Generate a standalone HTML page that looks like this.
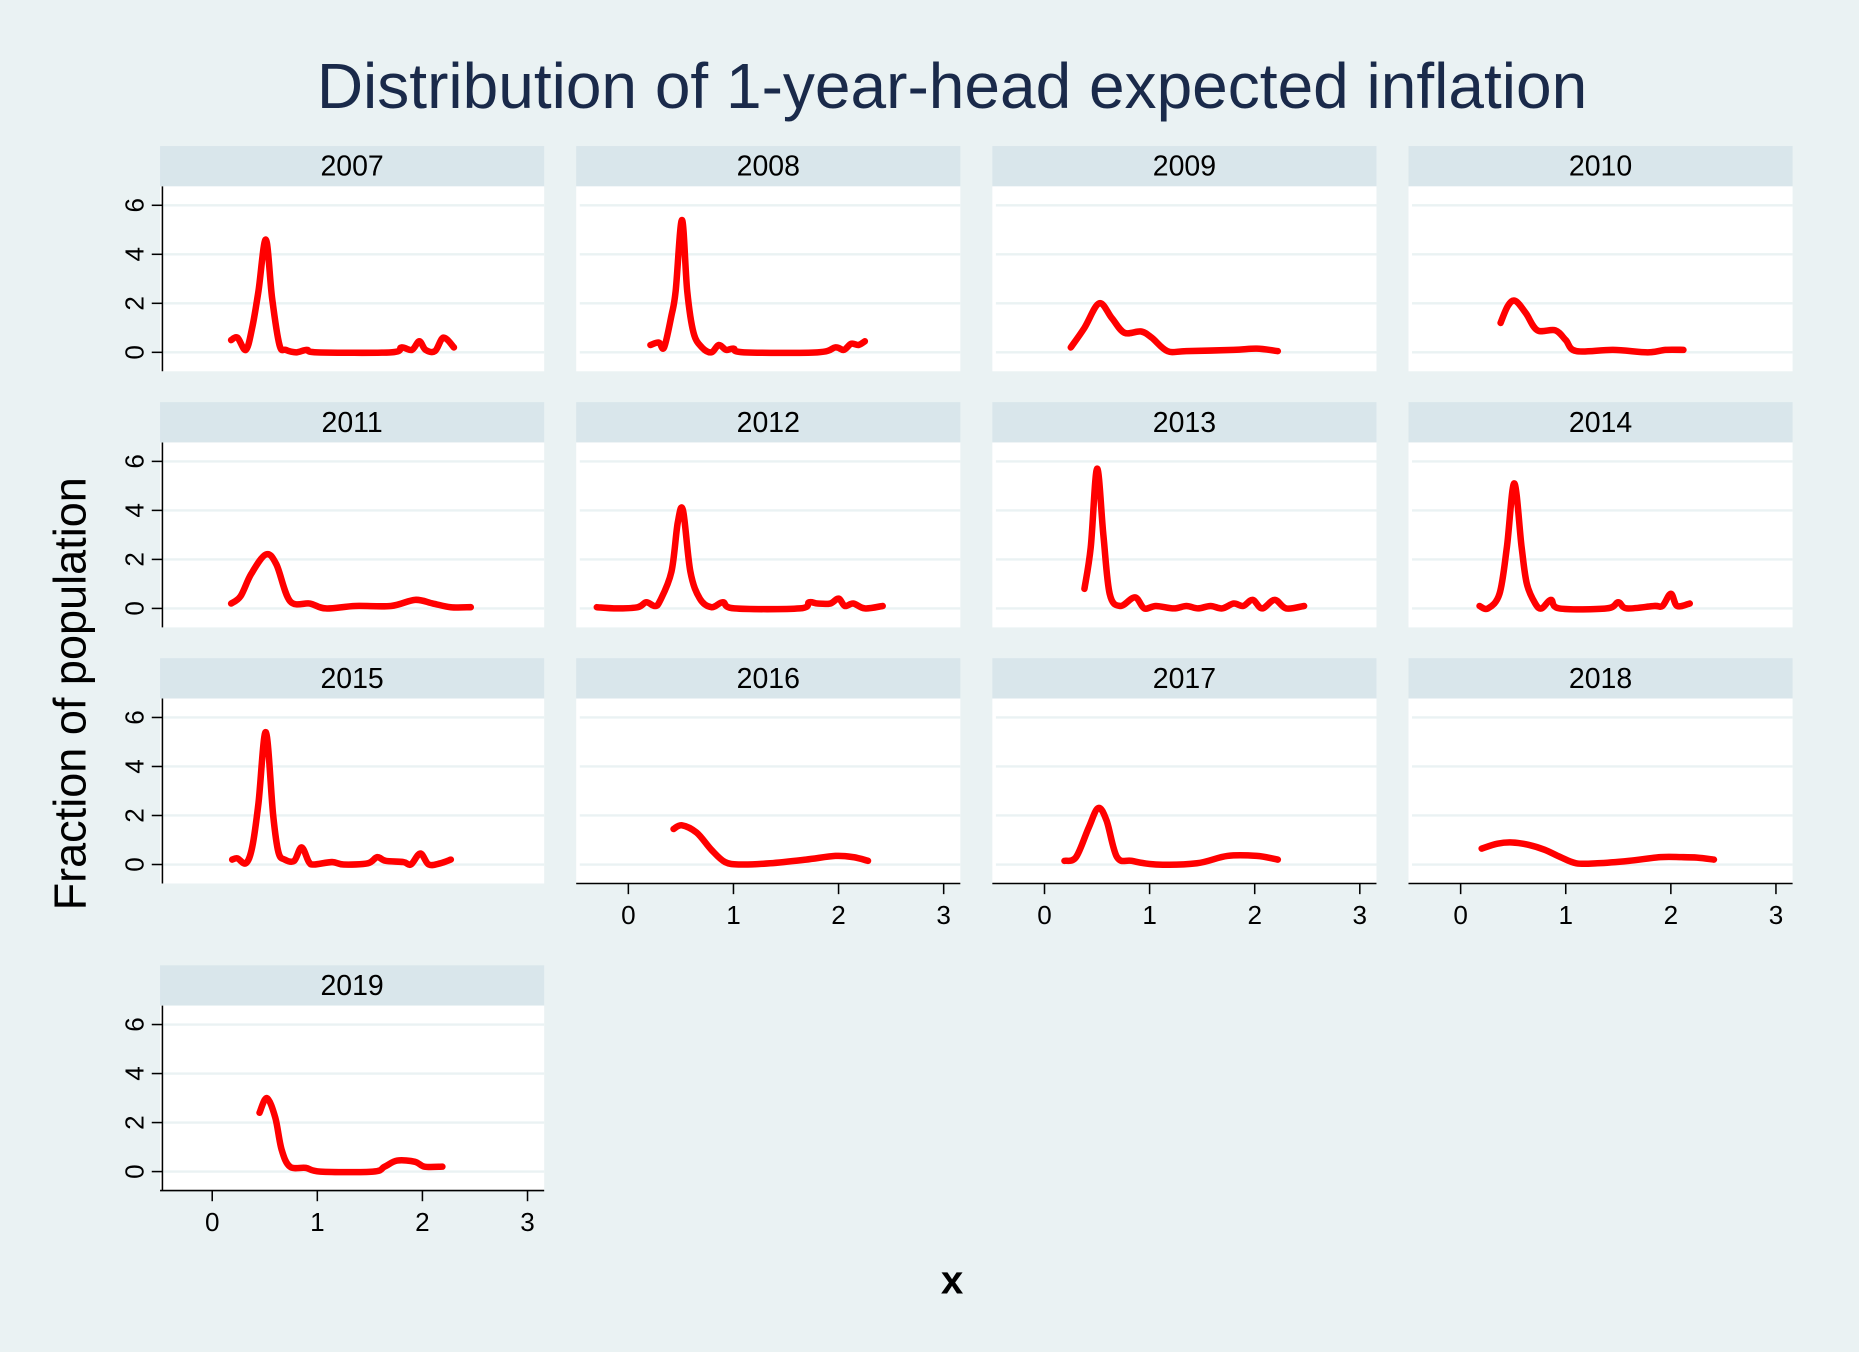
<!DOCTYPE html>
<html><head><meta charset="utf-8"><style>
html,body{margin:0;padding:0;background:#eaf2f3;}
svg{display:block;font-family:"Liberation Sans",sans-serif;}
</style></head><body>
<svg id="chart" width="1859" height="1352" viewBox="0 0 1568 1140" xmlns="http://www.w3.org/2000/svg">
<rect width="1568" height="1140" fill="#eaf2f3"/>
<text x="803" y="91" text-anchor="middle" font-size="54" fill="#1a2a4a">Distribution of 1-year-head expected inflation</text>
<text transform="translate(72,585) rotate(-90)" text-anchor="middle" font-size="38" fill="#000">Fraction of population</text>
<text x="803" y="1091" text-anchor="middle" font-size="34" font-weight="bold" fill="#000">x</text>
<g id="panels"></g>
</svg>
<script>
const years = ['2007','2008','2009','2010','2011','2012','2013','2014','2015','2016','2017','2018','2019'];
const yTicks = [0,2,4,6];
const xTicks = [0,1,2,3];
const x2007=[0.18,0.24,0.32,0.38,0.44,0.51,0.57,0.64,0.70,0.80,0.90,1.0,1.7,1.8,1.9,1.97,2.03,2.12,2.2,2.3];
const y2007=[0.5,0.6,0.1,1.0,2.5,4.6,2.2,0.3,0.1,0,0.1,0,0,0.2,0.1,0.45,0.1,0.05,0.6,0.2];
const x2008=[0.21,0.29,0.34,0.41,0.45,0.51,0.56,0.62,0.70,0.79,0.86,0.93,1.0,1.1,1.8,1.97,2.05,2.12,2.19,2.25];
const y2008=[0.3,0.4,0.2,1.5,2.5,5.4,2.5,0.8,0.2,0,0.3,0.1,0.15,0,0,0.2,0.1,0.35,0.3,0.45];
const x2009=[0.25,0.38,0.52,0.64,0.76,0.92,1.02,1.17,1.35,1.8,2.02,2.22];
const y2009=[0.2,1.0,2.0,1.4,0.8,0.85,0.6,0.05,0.05,0.1,0.15,0.05];
const x2010=[0.38,0.45,0.52,0.62,0.73,0.90,1.0,1.1,1.45,1.78,1.95,2.12];
const y2010=[1.2,1.9,2.1,1.6,0.9,0.9,0.5,0.05,0.1,0,0.1,0.1];
const x2011=[0.18,0.27,0.37,0.51,0.61,0.74,0.93,1.08,1.36,1.70,1.93,2.1,2.27,2.46];
const y2011=[0.2,0.5,1.4,2.2,1.8,0.3,0.2,0,0.1,0.1,0.35,0.2,0.05,0.05];
const x2012=[-0.3,-0.11,0.09,0.17,0.25,0.3,0.41,0.47,0.52,0.59,0.68,0.79,0.9,1.01,1.63,1.72,1.8,1.92,2.0,2.06,2.14,2.25,2.42];
const y2012=[0.05,0,0.05,0.25,0.1,0.3,1.5,3.5,4.0,1.5,0.4,0.05,0.25,0,0,0.25,0.2,0.2,0.4,0.1,0.2,0,0.1];
const x2013=[0.38,0.44,0.5,0.56,0.62,0.72,0.86,0.95,1.06,1.23,1.35,1.46,1.58,1.69,1.80,1.89,1.98,2.07,2.19,2.30,2.47];
const y2013=[0.8,2.5,5.7,3.0,0.6,0.1,0.45,0,0.1,0,0.1,0,0.1,0,0.2,0.1,0.35,0,0.35,0,0.1];
const x2014=[0.18,0.26,0.37,0.44,0.51,0.58,0.63,0.71,0.77,0.86,0.94,1.39,1.5,1.58,1.84,1.92,2.0,2.06,2.18];
const y2014=[0.1,0,0.6,2.5,5.1,2.5,1.0,0.2,0,0.35,0,0,0.25,0,0.1,0.1,0.6,0.1,0.2];
const x2015=[0.19,0.24,0.32,0.38,0.44,0.51,0.58,0.63,0.69,0.78,0.85,0.92,0.97,1.14,1.25,1.48,1.57,1.65,1.82,1.89,1.98,2.06,2.17,2.27];
const y2015=[0.2,0.25,0.05,0.7,2.5,5.4,2.0,0.5,0.2,0.15,0.7,0.1,0,0.1,0,0.05,0.3,0.15,0.1,0,0.45,0,0.05,0.2];
const x2016=[0.43,0.51,0.65,0.79,0.92,1.07,1.35,1.69,1.97,2.14,2.28];
const y2016=[1.45,1.6,1.3,0.6,0.1,0.0,0.05,0.2,0.35,0.3,0.15];
const x2017=[0.19,0.3,0.42,0.51,0.59,0.69,0.83,1.06,1.45,1.74,2.02,2.22];
const y2017=[0.15,0.3,1.5,2.3,1.8,0.3,0.15,0,0.05,0.35,0.35,0.2];
const x2018=[0.2,0.35,0.49,0.65,0.8,0.95,1.1,1.3,1.6,1.9,2.1,2.25,2.41];
const y2018=[0.65,0.85,0.9,0.8,0.6,0.3,0.05,0.05,0.15,0.3,0.3,0.28,0.2];
const x2019=[0.45,0.52,0.6,0.66,0.74,0.89,1.03,1.53,1.64,1.76,1.93,2.02,2.19];
const y2019=[2.4,3.0,2.2,0.9,0.2,0.15,0,0,0.2,0.45,0.4,0.2,0.2];
const seriesX=[x2007,x2008,x2009,x2010,x2011,x2012,x2013,x2014,x2015,x2016,x2017,x2018,x2019];
const seriesY=[y2007,y2008,y2009,y2010,y2011,y2012,y2013,y2014,y2015,y2016,y2017,y2018,y2019];

const NS='http://www.w3.org/2000/svg';
const root=document.getElementById('panels');
function mk(tag,attrs,parent){const e=document.createElementNS(NS,tag);for(const k in attrs)e.setAttribute(k,attrs[k]);(parent||root).appendChild(e);return e;}
const colLeft=[135,486,837,1188], rowTop=[123,339,555,814];
const PW=324, HH=34, PH=156;
function smooth(pts){
  let d='M'+pts[0][0]+','+pts[0][1];
  for(let i=0;i<pts.length-1;i++){
    const p0=pts[Math.max(0,i-1)],p1=pts[i],p2=pts[i+1],p3=pts[Math.min(pts.length-1,i+2)];
    const c1x=p1[0]+(p2[0]-p0[0])/6,c1y=p1[1]+(p2[1]-p0[1])/6;
    const c2x=p2[0]-(p3[0]-p1[0])/6,c2y=p2[1]-(p3[1]-p1[1])/6;
    d+=' C'+c1x+','+c1y+' '+c2x+','+c2y+' '+p2[0]+','+p2[1];
  }
  return d;
}
years.forEach((yr,i)=>{
  const r=Math.floor(i/4), c=i%4;
  const L=colLeft[c], T=rowTop[r];
  const g=mk('g',{});
  
  
  const hdr=mk('rect',{x:L,y:T,width:PW,height:HH,fill:'#d9e6eb'},g);
  
  
  const ht=mk('text',{x:L+PW/2,y:T+25,'text-anchor':'middle','font-size':24,fill:'#000'},g);
  ht.textContent=yr;
  
  
  const pt=T+HH;
  const bg=mk('rect',{x:L,y:pt,width:PW,height:PH,fill:'#fff'},g);
  
  
  const y0=pt+140, yU=20.67;
  const ys=v=>y0-v*yU;
  const x0=L+44, xU=88.65;
  const xs=v=>x0+v*xU;
  yTicks.forEach(t=>{
    const gl=mk('line',{x1:L+3,x2:L+PW,y1:ys(t),y2:ys(t),stroke:'#eaf2f3','stroke-width':2},g);
    
    
  });
  if(c===0){
    const ax=mk('line',{x1:L+2,x2:L+2,y1:pt,y2:pt+PH,stroke:'#000','stroke-width':1.3},g);
    
    
    yTicks.forEach(t=>{
      mk('line',{x1:L-7,x2:L+2,y1:ys(t),y2:ys(t),stroke:'#000','stroke-width':1.3},g);
      const tl=mk('text',{transform:'translate('+(L-22)+','+ys(t)+') rotate(-90)','text-anchor':'middle','font-size':22,dy:8,fill:'#000'},g);
      tl.textContent=t;
      
      
    });
  }
  const hasX = (r===2 && c>0) || r===3;
  if(hasX){
    const by=pt+PH;
    const xa=mk('line',{x1:L,x2:L+PW,y1:by,y2:by,stroke:'#000','stroke-width':1.3},g);
    
    
    xTicks.forEach(t=>{
      mk('line',{x1:xs(t),x2:xs(t),y1:by,y2:by+9,stroke:'#000','stroke-width':1.3},g);
      const tl=mk('text',{x:xs(t),y:by+34,'text-anchor':'middle','font-size':22,fill:'#000'},g);
      tl.textContent=t;
      
      
    });
  }
  const pts=seriesX[i].map((v,k)=>[xs(v),ys(seriesY[i][k])]);
  const p=mk('path',{d:smooth(pts),fill:'none',stroke:'#ff0000','stroke-width':5.5,'stroke-linejoin':'round','stroke-linecap':'round'},g);
  
  
});
</script>
</body></html>
